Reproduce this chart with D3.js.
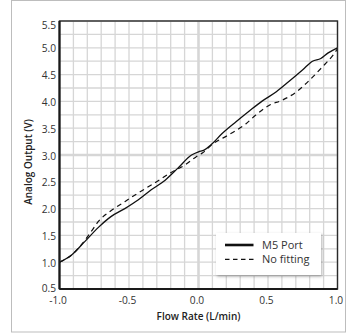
<!DOCTYPE html>
<html>
<head>
<meta charset="utf-8">
<script src="https://cdn.jsdelivr.net/npm/d3@7"></script>
<style>
  body { margin: 0; background: #fff; }
  svg { display: block; font-family: "Open Sans", sans-serif; }
</style>
</head>
<body>
<div id="chart"></div>
<script>
// data
const flowM5 = [-1.0, -0.915, -0.82, -0.72, -0.63, -0.53, -0.435, -0.34, -0.24, -0.15, -0.05, 0.0, 0.04, 0.09, 0.17, 0.27, 0.37, 0.46, 0.56, 0.65, 0.75, 0.82, 0.88, 0.93, 1.0];
const voltM5 = [1.0, 1.13, 1.38, 1.65, 1.85, 2.0, 2.16, 2.35, 2.53, 2.75, 3.0, 3.06, 3.09, 3.19, 3.4, 3.62, 3.83, 4.01, 4.18, 4.37, 4.59, 4.75, 4.8, 4.9, 5.0];
const flowNoFit = [-1.0, -0.915, -0.82, -0.77, -0.72, -0.63, -0.53, -0.435, -0.34, -0.29, -0.2, -0.1, -0.02, 0.03, 0.1, 0.22, 0.34, 0.41, 0.51, 0.6, 0.7, 0.8, 0.89, 0.97, 1.0];
const voltNoFit = [1.0, 1.13, 1.4, 1.58, 1.76, 1.96, 2.13, 2.29, 2.44, 2.52, 2.67, 2.81, 2.96, 3.04, 3.2, 3.38, 3.58, 3.74, 3.93, 4.02, 4.17, 4.4, 4.64, 4.87, 4.98];
const xTicks = [-1.0, -0.5, 0.0, 0.5, 1.0];
const yTicks = [0.5, 1.0, 1.5, 2.0, 2.5, 3.0, 3.5, 4.0, 4.5, 5.0, 5.5];
const seriesNames = ['M5 Port', 'No fitting'];

const width = 346, height = 333;
const margin = {t: 21, r: 8.5, b: 44, l: 59.5};
const w = width - margin.l - margin.r;
const h = height - margin.t - margin.b;

const svg = d3.select('#chart').append('svg')
    .attr('width', width)
    .attr('height', height);

const defs = svg.append('defs');
defs.append('clipPath').attr('id', 'plot-clip')
    .append('rect').attr('width', w).attr('height', h);
const shadow = defs.append('filter').attr('id', 'shadow')
    .attr('x', '-20%').attr('y', '-30%').attr('width', '140%').attr('height', '160%');
shadow.append('feDropShadow')
    .attr('dx', 1).attr('dy', 1.5).attr('stdDeviation', 1.8)
    .attr('flood-color', '#000').attr('flood-opacity', 0.3);

// outer frame
svg.append('rect')
    .attr('x', 11.5).attr('y', 0.5)
    .attr('width', width - 12).attr('height', height - 1.5)
    .attr('fill', 'none').attr('stroke', '#bdbdbd');

const x = d3.scaleLinear().domain([-1, 1]).range([0, w]);
const y = d3.scaleLinear().domain([0.5, 5.5]).range([h, 0]);

const plot = svg.append('g').attr('transform', `translate(${margin.l},${margin.t})`);

// grid
const gx = d3.range(-10, 11).map(d => d / 10);
const gy = d3.range(0, 21).map(d => 0.5 + d * 0.25);
plot.append('g').selectAll('line').data(gx).join('line')
    .attr('x1', d => x(d)).attr('x2', d => x(d))
    .attr('y1', 0).attr('y2', h)
    .attr('stroke', '#d6d6d6')
    .attr('stroke-width', d => Math.abs(d) < 1e-9 ? 2.6 : 1.3);
plot.append('g').selectAll('line').data(gy).join('line')
    .attr('y1', d => y(d)).attr('y2', d => y(d))
    .attr('x1', 0).attr('x2', w)
    .attr('stroke', '#d6d6d6')
    .attr('stroke-width', d => Math.abs(d - 3) < 1e-9 ? 2.6 : 1.3);

// series
const line = d3.line()
    .x(d => x(d[0])).y(d => y(d[1]))
    .curve(d3.curveMonotoneX);
const lines = plot.append('g').attr('clip-path', 'url(#plot-clip)');
lines.append('path')
    .datum(d3.zip(flowNoFit, voltNoFit))
    .attr('d', line)
    .attr('fill', 'none').attr('stroke', '#111')
    .attr('stroke-width', 1.2).attr('stroke-dasharray', '5,4');
lines.append('path')
    .datum(d3.zip(flowM5, voltM5))
    .attr('d', line)
    .attr('fill', 'none').attr('stroke', '#111')
    .attr('stroke-width', 1.3);

// plot border
plot.append('rect')
    .attr('width', w).attr('height', h)
    .attr('fill', 'none').attr('stroke', '#2a2a2a').attr('stroke-width', 1.4);
plot.append('line').attr('x1', 0).attr('x2', 0).attr('y1', 0).attr('y2', h)
    .attr('stroke', '#1a1a1a').attr('stroke-width', 2.2);
plot.append('line').attr('x1', 0).attr('x2', w).attr('y1', h).attr('y2', h)
    .attr('stroke', '#1a1a1a').attr('stroke-width', 2.2);

// tick labels
plot.append('g').selectAll('text').data(yTicks).join('text')
    .attr('x', -3.5)
    .attr('y', d => y(d) + (d === 5.5 ? 4 : d === 0.5 ? -1 : 1))
    .attr('dy', '0.35em')
    .attr('text-anchor', 'end')
    .attr('font-size', 10.2).attr('fill', '#333')
    .text(d => d.toFixed(1));
plot.append('g').selectAll('text').data(xTicks).join('text')
    .attr('x', d => x(d) - 1.5)
    .attr('y', h + 14.5)
    .attr('text-anchor', 'middle')
    .attr('font-size', 10.2).attr('fill', '#333')
    .text(d => d.toFixed(1));

// axis titles
svg.append('text')
    .attr('x', margin.l + w / 2).attr('y', 320)
    .attr('text-anchor', 'middle')
    .attr('font-size', 10).attr('font-weight', 600).attr('fill', '#222')
    .text('Flow Rate (L/min)');
svg.append('text')
    .attr('transform', 'translate(32,162) rotate(-90)')
    .attr('text-anchor', 'middle')
    .attr('font-size', 10).attr('font-weight', 600).attr('fill', '#222')
    .text('Analog Output (V)');

// legend
const legend = svg.append('g').attr('transform', 'translate(216,233)');
legend.append('rect')
    .attr('width', 105).attr('height', 42)
    .attr('fill', '#fff').attr('filter', 'url(#shadow)');
legend.selectAll('line').data(seriesNames).join('line')
    .attr('x1', 9).attr('x2', 37.5)
    .attr('y1', (d, i) => 12 + i * 14.3).attr('y2', (d, i) => 12 + i * 14.3)
    .attr('stroke', '#111')
    .attr('stroke-width', (d, i) => i === 0 ? 2.6 : 1.2)
    .attr('stroke-dasharray', (d, i) => i === 0 ? null : '4.5,3.5');
legend.selectAll('text').data(seriesNames).join('text')
    .attr('x', 46)
    .attr('y', (d, i) => 12 + i * 14.3)
    .attr('dy', '0.35em')
    .attr('font-size', 11).attr('fill', '#333')
    .text(d => d);
</script>
</body>
</html>
